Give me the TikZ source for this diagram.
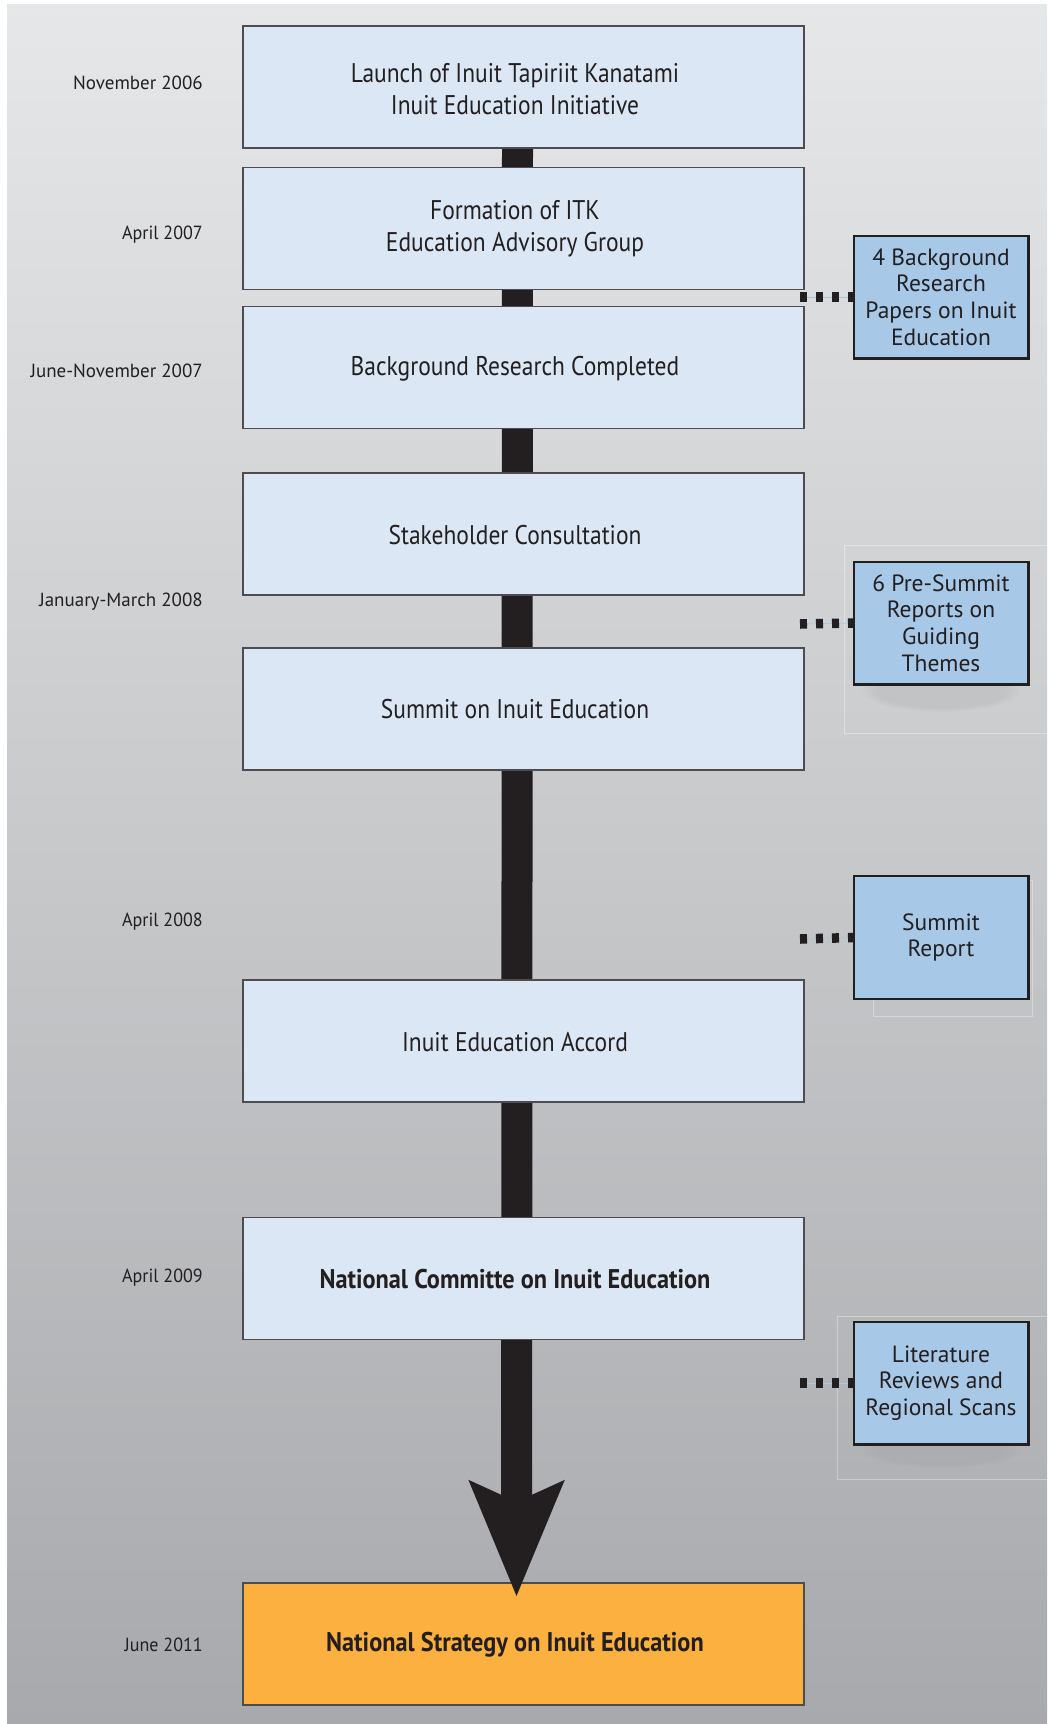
\documentclass[tikz,border=0pt]{standalone}
\usepackage{fontspec}
\usepackage{graphicx}
\setmainfont{PT Sans}
\usetikzlibrary{arrows.meta,fadings}
\definecolor{bgtop}{HTML}{E6E7E8}
\definecolor{bgbot}{HTML}{A8A9AC}
\definecolor{mainfill}{HTML}{DBE7F4}
\definecolor{sidefill}{HTML}{A7C8E7}
\definecolor{orangefill}{HTML}{FBB040}
\definecolor{ink}{HTML}{231F20}
\definecolor{mainedge}{HTML}{4D4D4F}
\newcommand{\squeezetext}[1]{\scalebox{0.87}[1]{#1}}
\newcommand{\squeezebold}[1]{\scalebox{0.90}[1]{#1}}
\tikzset{
  mainbox/.style={draw=mainedge, line width=1.5pt, fill=mainfill, minimum width=561pt, minimum height=122pt, inner sep=0pt},
  finalbox/.style={mainbox, fill=orangefill, draw=mainedge},
  maintext/.style={font=\fontsize{27}{32}\selectfont, text=ink, align=center, inner sep=0pt},
  boldtext/.style={maintext, font=\fontsize{27}{32}\selectfont\bfseries},
  sidebox/.style={draw=ink, line width=1.5pt, fill=sidefill, minimum width=174pt, minimum height=122pt, inner sep=0pt, font=\fontsize{23.5}{26.7}\selectfont, text=ink, align=center},
  datetext/.style={anchor=east, font=\fontsize{19}{22}\selectfont, text=ink, inner sep=0pt},
  dotline/.style={draw=ink, line width=9.5pt, dash pattern=on 7pt off 9pt},
  dotcore/.style={draw=sidefill, line width=0.8pt},
  spine/.style={draw=ink, line width=31pt, -{Stealth[length=114pt, width=91pt, inset=19pt]}},
  faint/.style={draw=white, draw opacity=0.35, line width=1pt},
}
\begin{document}
\begin{tikzpicture}[x=1pt, y=-1pt]
  \useasboundingbox (0,0) rectangle (1047,1724);
  \shade[top color=bgtop, bottom color=bgbot] (7,4) rectangle (1047,1724);

  % faint frames and soft shadows behind side boxes
  \draw[faint] (844,545) rectangle (1060,733);
  \draw[faint] (873,880) rectangle (1032,1016);
  \draw[faint] (837,1316) rectangle (1060,1479);
  \fill[black, opacity=0.05, path fading=circle with fuzzy edge 20 percent] (941,690) ellipse (80pt and 22pt);
  \fill[black, opacity=0.03, path fading=circle with fuzzy edge 20 percent] (941,1450) ellipse (80pt and 18pt);

  % final box (under the arrow tip)
  \node[finalbox] (b8) at (523.5,1644) {};
  \node[boldtext] (t8) at (515,1645) {\squeezebold{National Strategy on Inuit Education}};

  % spine arrow
  \coordinate (spinetop) at (517.5,148);
  \coordinate (spinetip) at (516.5,1597);
  \draw[spine] (spinetop) -- (spinetip);

  % main boxes
  \node[mainbox] (b1) at (523.5,87) {};
  \node[mainbox] (b2) at (523.5,228.5) {};
  \node[mainbox] (b3) at (523.5,367.5) {};
  \node[mainbox] (b4) at (523.5,534) {};
  \node[mainbox] (b5) at (523.5,709) {};
  \node[mainbox] (b6) at (523.5,1041) {};
  \node[mainbox] (b7) at (523.5,1278.5) {};

  \node[maintext] (t1) at (515,89) {\squeezetext{Launch of Inuit Tapiriit Kanatami}\\\squeezetext{Inuit Education Initiative}};
  \node[maintext] (t2) at (515,228.5) {\squeezetext{Formation of ITK}\\\squeezetext{Education Advisory Group}};
  \node[maintext] (t3) at (515,369) {\squeezetext{Background Research Completed}};
  \node[maintext] (t4) at (515,535) {\squeezetext{Stakeholder Consultation}};
  \node[maintext] (t5) at (515,709) {\squeezetext{Summit on Inuit Education}};
  \node[maintext] (t6) at (515,1042) {\squeezetext{Inuit Education Accord}};
  \node[boldtext] (t7) at (515,1279) {\squeezebold{National Committe on Inuit Education}};

  % dates
  \node[datetext] (d1) at (203,83) {November 2006};
  \node[datetext] (d2) at (203,235) {\scalebox{0.95}[1]{April 2007}};
  \node[datetext] (d3) at (203,371) {June-November 2007};
  \node[datetext] (d4) at (203,602) {January-March 2008};
  \node[datetext] (d5) at (203,922) {\scalebox{0.95}[1]{April 2008}};
  \node[datetext] (d6) at (203,1278) {\scalebox{0.95}[1]{April 2009}};
  \node[datetext] (d7) at (203,1645) {\scalebox{0.95}[1]{June 2011}};

  % side boxes
  \coordinate (cA) at (800,297);
  \coordinate (cB) at (800,624);
  \coordinate (cC) at (800,939);
  \coordinate (cD) at (800,1383);
  \node[sidebox] (sA) at (941,297) {4 Background\\Research\\Papers on Inuit\\Education};
  \node[sidebox] (sB) at (941,623) {6 Pre-Summit\\Reports on\\Guiding\\Themes};
  \node[sidebox] (sC) at (941,937.5) {Summit\\Report};
  \node[sidebox] (sD) at (941,1383) {Literature\\Reviews and\\Regional Scans};

  \foreach \c/\s in {cA/sA, cB/sB, cC/sC, cD/sD}{
    \draw[dotcore] (\c) -- (\s.west);
    \draw[dotline] (\c) -- (\s.west);
  }
  \foreach \s in {sA,sB,sC,sD}{
    \draw[draw=ink, line width=1.5pt] (\s.north west) rectangle (\s.south east);
  }
\end{tikzpicture}
\end{document}
